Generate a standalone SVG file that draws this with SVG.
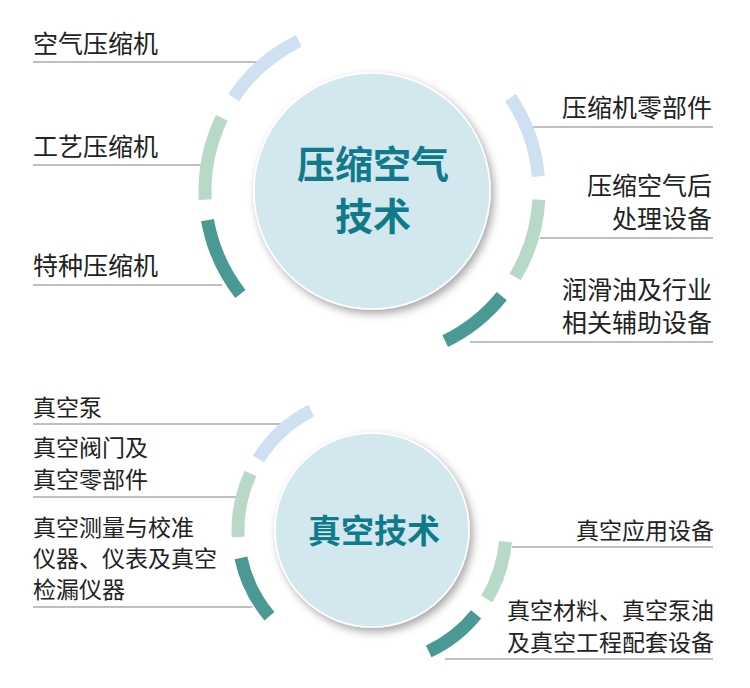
<svg xmlns="http://www.w3.org/2000/svg" width="750" height="688" viewBox="0 0 750 688">
<defs>
<filter id="sh" x="-20%" y="-20%" width="150%" height="150%"><feDropShadow dx="3" dy="4" stdDeviation="4" flood-color="#000" flood-opacity="0.35"/></filter>
<style>
.t{font-family:"Noto Sans CJK SC","Noto Sans",sans-serif;font-size:25px;fill:#222}
.s{font-size:23px}
.r{text-anchor:end}
.c{font-family:"Noto Sans CJK SC",sans-serif;font-weight:bold;fill:#0f7a8a;text-anchor:middle}
.ln{stroke:#aaa;stroke-width:1.5;fill:none}
.a{fill:none;stroke-width:13}
.b{stroke:#cfe0f2}.g{stroke:#b9d9c8}.d{stroke:#4a9993}
.cir{fill:#d3e7ef;stroke:#fff;stroke-width:1.5;filter:url(#sh)}
</style>
</defs>
<rect width="750" height="688" fill="#fff"/>
<g id="connectors">
<path class="ln" d="M33 62H265M33 165H208M33 285H222M530 127H713M540 238H713M470 342H713"/>
<path class="ln" d="M33 424H292M33 497H242M33 607H252M512 547H713M445 659H713"/>
</g>
<g id="ring-top">
<path class="a b" d="M298.8 40.9A167 167 0 0 0 233.6 97.6"/>
<path class="a g" d="M221.9 117.8A167 167 0 0 0 205.2 199.7"/>
<path class="a d" d="M207.5 220.1A167 167 0 0 0 240.4 293.9"/>
<path class="a b" d="M510.4 97.6A167 167 0 0 1 538.3 176.5"/>
<path class="a g" d="M538.8 199.7A167 167 0 0 1 515.1 277"/>
<path class="a d" d="M501.8 296.1A167 167 0 0 1 445.2 341.1"/>
</g>
<g id="ring-bottom">
<path class="a b" d="M311.2 410.6A134 134 0 0 0 258.4 459"/>
<path class="a g" d="M250.6 473.4A134 134 0 0 0 238.2 537"/>
<path class="a d" d="M240.9 557.9A134 134 0 0 0 269.4 616.2"/>
<path class="a g" d="M505.5 541.7A134 134 0 0 1 486.8 599"/>
<path class="a d" d="M476.1 614.3A134 134 0 0 1 428.7 651.4"/>
</g>
<g id="hub-compressed-air">
<circle class="cir" cx="372" cy="191" r="118"/>
<text class="c" x="373" y="178" font-size="38">压缩空气</text>
<text class="c" x="373" y="230" font-size="38">技术</text>
</g>
<g id="hub-vacuum">
<circle class="cir" cx="372" cy="530" r="97"/>
<text class="c" x="374" y="543" font-size="33">真空技术</text>
</g>
<g id="n1"><text class="t" x="33" y="53">空气压缩机</text></g>
<g id="n2"><text class="t" x="33" y="156">工艺压缩机</text></g>
<g id="n3"><text class="t" x="33" y="275">特种压缩机</text></g>
<g id="n4"><text class="t r" x="712" y="117">压缩机零部件</text></g>
<g id="n5"><text class="t r" x="712" y="195">压缩空气后</text><text class="t r" x="712" y="228">处理设备</text></g>
<g id="n6"><text class="t r" x="712" y="299">润滑油及行业</text><text class="t r" x="712" y="332">相关辅助设备</text></g>
<g id="v1"><text class="t s" x="33" y="416">真空泵</text></g>
<g id="v2"><text class="t s" x="33" y="456">真空阀门及</text><text class="t s" x="33" y="488">真空零部件</text></g>
<g id="v3"><text class="t s" x="33" y="536">真空测量与校准</text><text class="t s" x="33" y="567">仪器、仪表及真空</text><text class="t s" x="33" y="598">检漏仪器</text></g>
<g id="v4"><text class="t s r" x="714" y="539">真空应用设备</text></g>
<g id="v5"><text class="t s r" x="714" y="619">真空材料、真空泵油</text><text class="t s r" x="714" y="651">及真空工程配套设备</text></g>
</svg>
